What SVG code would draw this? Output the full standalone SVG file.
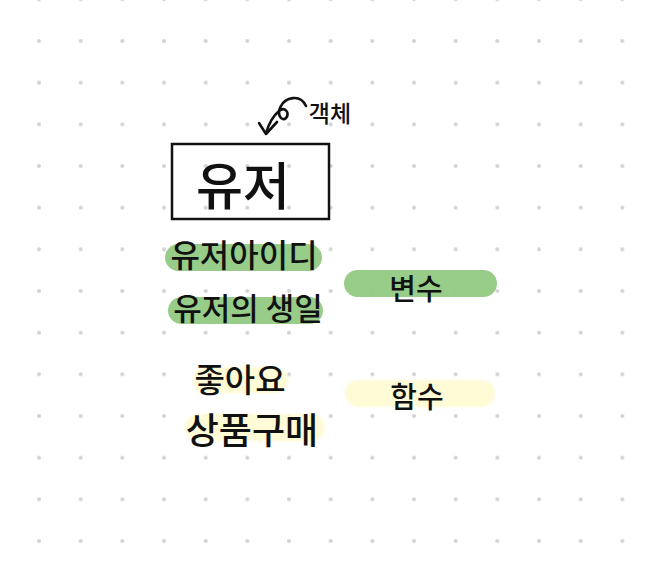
<svg xmlns="http://www.w3.org/2000/svg" width="648" height="570" viewBox="0 0 648 570">
  <defs>
    <pattern id="dots" patternUnits="userSpaceOnUse" x="18.17" y="20.17" width="41.667" height="41.667">
      <circle cx="20.833" cy="20.833" r="2" fill="#d2d2d2"/>
    </pattern>
    <filter id="soft" x="-10%" y="-30%" width="120%" height="160%">
      <feGaussianBlur stdDeviation="1.2"/>
    </filter>
  </defs>
  <style>
    .hand { font-family: "Noto Sans CJK KR", "Noto Sans", sans-serif; fill: #111; text-anchor: middle; font-weight: 500; }
    .green { fill: #8ec97f; opacity: 0.92; }
    .yellow { fill: #fefbd6; filter: url(#soft); }
    .ink { fill: none; stroke: #111; stroke-width: 2.6; stroke-linecap: round; stroke-linejoin: round; }
  </style>
  <rect width="648" height="570" fill="#ffffff"/>
  <rect width="648" height="570" fill="url(#dots)"/>

  <g id="user">
    <rect x="172" y="144" width="157" height="75" fill="none" stroke="#111" stroke-width="2.5"/>
    <text class="hand" x="243" y="205" font-size="51">유저</text>
  </g>

  <g id="object-label">
    <text class="hand" x="330" y="122" font-size="23" font-weight="700">객체</text>
  </g>

  <g id="connectors">
    <path class="ink" d="M266,133 C269,123 273,116 279,111 C285,106 290,113 286,118 C282,122 276,115 281,106 C285,98 300,93 306,106"/>
    <path class="ink" d="M259,123 L266,134 L277,122"/>
  </g>

  <g id="user-id">
    <rect class="green" x="165" y="244" width="157" height="27" rx="13.5"/>
    <text class="hand" x="244" y="267" font-size="32">유저아이디</text>
  </g>

  <g id="user-birthday">
    <rect class="green" x="168" y="297" width="155" height="27" rx="13.5"/>
    <text class="hand" x="248" y="320" font-size="31">유저의 생일</text>
  </g>

  <g id="variable">
    <rect class="green" x="344" y="270" width="153" height="27" rx="13.5"/>
    <text class="hand" x="416" y="300" font-size="29">변수</text>
  </g>

  <g id="like">
    <rect class="yellow" x="193" y="367" width="95" height="26" rx="13"/>
    <text class="hand" x="240" y="392" font-size="33">좋아요</text>
  </g>

  <g id="purchase">
    <rect class="yellow" x="185" y="414" width="140" height="27" rx="13.5"/>
    <text class="hand" x="252" y="444" font-size="36">상품구매</text>
  </g>

  <g id="function">
    <rect class="yellow" x="345" y="380" width="150" height="27" rx="13.5"/>
    <text class="hand" x="417" y="408" font-size="29">함수</text>
  </g>
</svg>
